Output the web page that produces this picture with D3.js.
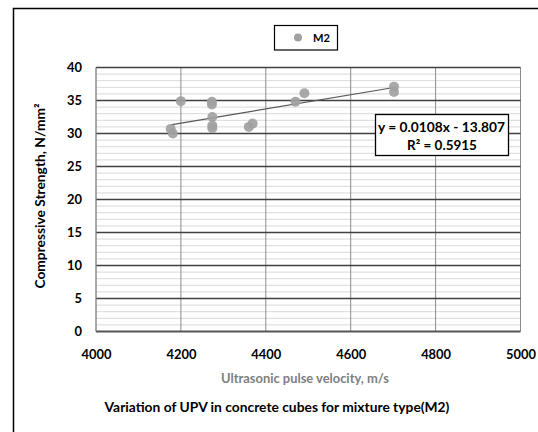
<!DOCTYPE html>
<html><head><meta charset="utf-8">
<script src="https://cdn.jsdelivr.net/npm/d3@7"></script>
<style>body{margin:0;background:#fff}svg{display:block}text{font-family:Lato,"Open Sans",sans-serif}</style>
</head><body>
<svg id="c" width="538" height="432"></svg>
<script>
const upv = [4176, 4181, 4200, 4273, 4273, 4274, 4274, 4274, 4360, 4369, 4470, 4491, 4702, 4702];
const strength = [30.7, 30.0, 34.9, 34.8, 34.4, 32.5, 31.2, 30.8, 31.0, 31.5, 34.8, 36.1, 37.1, 36.3];
const xTicks = [4000, 4200, 4400, 4600, 4800, 5000];
const yTicks = [0, 5, 10, 15, 20, 25, 30, 35, 40];
const slope = 0.0108, intercept = -13.807, r2 = 0.5915;
const seriesName = "M2";
const xTitle = "Ultrasonic pulse velocity, m/s";
const yTitle = "Compressive Strength, N/mm²";
const caption = "Variation of UPV in concrete cubes for mixture type(M2)";

const svg = d3.select("#c");
function fit(sel, w){
  const fs = parseFloat(sel.attr("font-size"));
  const len = sel.node().getComputedTextLength();
  sel.attr("font-size", (fs*w/len).toFixed(2));
  return fs*w/len;
}
svg.append("rect").attr("x",13.5).attr("y",8.5).attr("width",540).attr("height",440)
  .attr("fill","#fff").attr("stroke","#000").attr("stroke-width",1.5);

const x = d3.scaleLinear().domain([4000,5000]).range([96,520.5]);
const y = d3.scaleLinear().domain([0,40]).range([331.5,67.5]);

const minor = d3.range(0,41,1).filter(v=>v%5!==0);
svg.append("g").selectAll("line").data(minor).join("line")
  .attr("x1",x(4000)).attr("x2",x(5000)).attr("y1",d=>y(d)).attr("y2",d=>y(d))
  .attr("stroke","#d9d9d9").attr("stroke-width",1);
svg.append("g").selectAll("line").data(xTicks).join("line")
  .attr("x1",d=>x(d)).attr("x2",d=>x(d)).attr("y1",y(0)).attr("y2",y(40))
  .attr("stroke","#8c8c8c").attr("stroke-width",1);
svg.append("g").selectAll("line").data(yTicks).join("line")
  .attr("x1",x(4000)).attr("x2",x(5000)).attr("y1",d=>y(d)).attr("y2",d=>y(d))
  .attr("stroke",d=>d===0?"#555":"#404040").attr("stroke-width",d=>d===0?2:1.3);
svg.append("line").attr("x1",x(4000)).attr("x2",x(4000)).attr("y1",y(0)).attr("y2",y(40))
  .attr("stroke","#8c8c8c");

const probe = svg.append("text").attr("font-size",13).attr("font-weight","bold").text("4000");
const tfs = fit(probe, 30); probe.remove();

const xa = svg.append("g").attr("transform",`translate(0,${y(0)})`)
  .call(d3.axisBottom(x).tickValues(xTicks).tickSize(0).tickPadding(18).tickFormat(d3.format("d")));
xa.select(".domain").remove();
xa.selectAll("text").attr("font-size",tfs).attr("font-weight","bold").attr("fill","#000");
const ya = svg.append("g").attr("transform",`translate(${x(4000)},0)`)
  .call(d3.axisLeft(y).tickValues(yTicks).tickSize(0).tickPadding(14));
ya.select(".domain").remove();
ya.selectAll("text").attr("font-size",tfs).attr("font-weight","bold").attr("fill","#000");

const xmin = d3.min(upv), xmax = d3.max(upv);
svg.append("line").attr("x1",x(xmin)).attr("y1",y(slope*xmin+intercept))
  .attr("x2",x(xmax)).attr("y2",y(slope*xmax+intercept))
  .attr("stroke","#595959").attr("stroke-width",1.2);

svg.append("g").selectAll("circle").data(upv.map((v,i)=>[v,strength[i]])).join("circle")
  .attr("cx",d=>x(d[0])).attr("cy",d=>y(d[1])).attr("r",5)
  .attr("fill","#a0a0a0").attr("opacity",0.9);

svg.append("rect").attr("x",375.5).attr("y",114.5).attr("width",133).attr("height",41)
  .attr("fill","#fff").attr("stroke","#000").attr("stroke-width",1.3);
fit(svg.append("text").attr("x",441.5).attr("y",132).attr("text-anchor","middle")
  .attr("font-size",12.5).attr("font-weight","bold").text(`y = ${slope}x - ${Math.abs(intercept)}`), 127);
fit(svg.append("text").attr("x",442).attr("y",150).attr("text-anchor","middle")
  .attr("font-size",12.5).attr("font-weight","bold").text(`R² = ${r2}`), 70);

svg.append("rect").attr("x",274.5).attr("y",25.5).attr("width",63).attr("height",24.5)
  .attr("fill","#fff").attr("stroke","#000").attr("stroke-width",1.2);
svg.append("circle").attr("cx",298).attr("cy",37.5).attr("r",4).attr("fill","#a0a0a0");
fit(svg.append("text").attr("x",313).attr("y",42).attr("font-size",11.5).attr("font-weight","bold").text(seriesName), 17);

fit(svg.append("text").attr("x",305).attr("y",383).attr("text-anchor","middle")
  .attr("font-size",12.5).attr("font-weight","bold").attr("fill","#808080").text(xTitle), 168);
fit(svg.append("text").attr("transform","translate(45,196) rotate(-90)").attr("text-anchor","middle")
  .attr("font-size",12.5).attr("font-weight","bold").attr("fill","#000").text(yTitle), 185);
fit(svg.append("text").attr("x",277).attr("y",412).attr("text-anchor","middle")
  .attr("font-size",12.5).attr("font-weight","bold").attr("fill","#000").text(caption), 345);
</script>
</body></html>
